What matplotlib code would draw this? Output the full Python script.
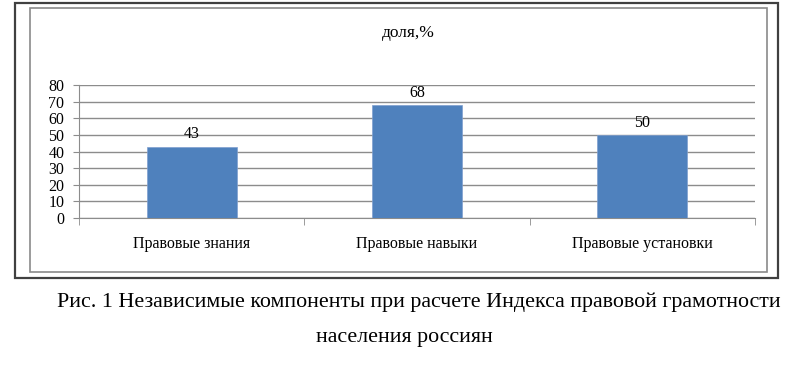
import matplotlib
matplotlib.use("Agg")
from matplotlib import pyplot as plt
from matplotlib.patches import Rectangle

# данные
categories = ["Правовые знания", "Правовые навыки", "Правовые установки"]
values = [43, 68, 50]
yticks = [0, 10, 20, 30, 40, 50, 60, 70, 80]
title = "доля,%"
caption1 = "Рис. 1 Независимые компоненты при расчете Индекса правовой грамотности"
caption2 = "населения россиян"

plt.rcParams['font.family'] = ['Liberation Serif', 'DejaVu Serif']

fig = plt.figure(figsize=(8, 3.68), dpi=100)

# рамки вокруг диаграммы
fig.patches.append(Rectangle((0.019, 0.245), 0.954, 0.747, transform=fig.transFigure,
                             fill=False, edgecolor="#404040", lw=1.6))
fig.patches.append(Rectangle((0.0375, 0.26), 0.921, 0.717, transform=fig.transFigure,
                             fill=False, edgecolor="#8a8a8a", lw=1.2))

ax = fig.add_axes([0.09875, 0.4076, 0.845, 0.3614])
x = range(len(categories))
bars = ax.bar(x, values, width=0.4, color="#4F81BD", edgecolor="#7f9fcf", lw=0.5, zorder=3)
for b, v in zip(bars, values):
    ax.text(b.get_x() + b.get_width() / 2, v + 2.5, str(v), ha="center", va="bottom", fontsize=11.5)

ax.set_xlim(-0.5, 2.5)
ax.set_ylim(0, 80)
ax.set_yticks(yticks)
ax.set_yticklabels([str(t) for t in yticks], fontsize=11.5)
ax.yaxis.grid(True, color="#8c8c8c", lw=1)
ax.set_axisbelow(True)

ax.set_xticks(list(x))
ax.set_xticklabels(categories, fontsize=11.5)
ax.tick_params(axis="x", length=0, pad=13)
ax.set_xticks([-0.5, 0.5, 1.5, 2.5], minor=True)
ax.tick_params(axis="x", which="minor", length=5, color="#8c8c8c")
ax.tick_params(axis="y", length=4.5, color="#8c8c8c", pad=6)

for s in ["top", "right"]:
    ax.spines[s].set_visible(False)
ax.spines["left"].set_color("#8c8c8c")
ax.spines["bottom"].set_color("#8c8c8c")

fig.text(0.511, 0.91, title, ha="center", va="center", fontsize=12.5)
fig.text(0.523, 0.18, caption1, ha="center", va="center", fontsize=15.8)
fig.text(0.506, 0.082, caption2, ha="center", va="center", fontsize=15.8)

fig.savefig("out.png", dpi=100)
